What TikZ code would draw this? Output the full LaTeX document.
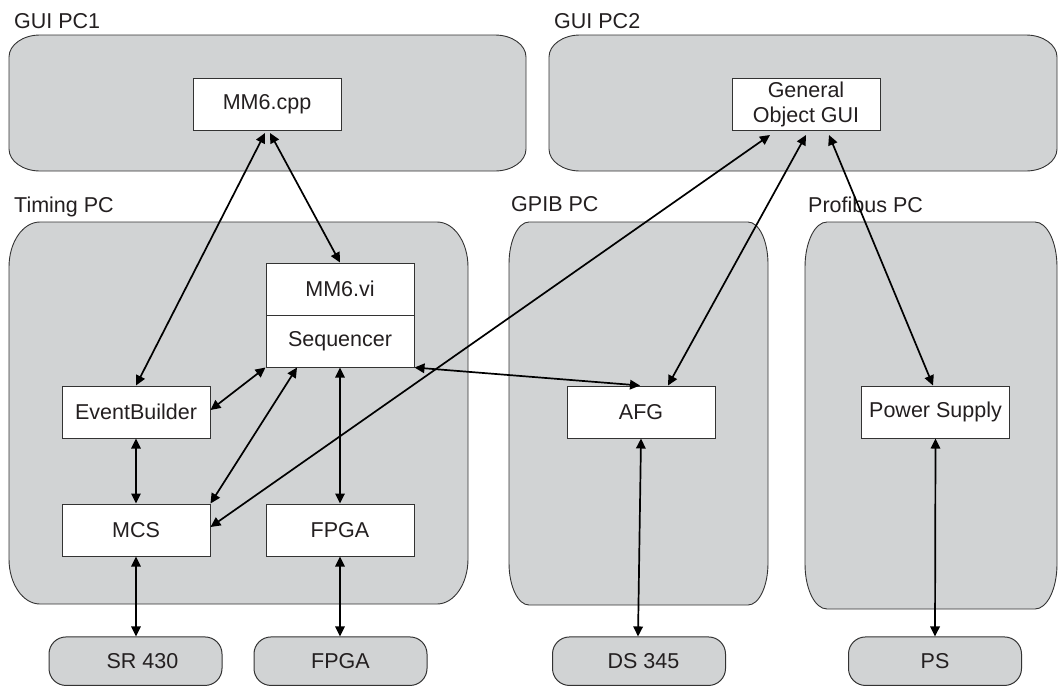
\documentclass[tikz,border=0pt]{standalone}
\usepackage{fontspec}
\setmainfont{Liberation Sans}
\usetikzlibrary{arrows.meta}
\definecolor{regfill}{HTML}{D1D3D4}
\definecolor{edge}{HTML}{333333}
\definecolor{txt}{HTML}{231F20}
\newcommand\regionshape[6]{%
  \filldraw[region] (#1,#2+#6) .. controls (#1,#2+0.448*#6) and (#1+0.448*#5,#2) .. (#1+#5,#2)
   -- (#3-#5,#2) .. controls (#3-0.448*#5,#2) and (#3,#2+0.448*#6) .. (#3,#2+#6)
   -- (#3,#4-#6) .. controls (#3,#4-0.448*#6) and (#3-0.448*#5,#4) .. (#3-#5,#4)
   -- (#1+#5,#4) .. controls (#1+0.448*#5,#4) and (#1,#4-0.448*#6) .. (#1,#4-#6) -- cycle;}
\tikzset{
  region/.style={fill=regfill, draw=edge, line width=0.9pt},
  wbox/.style={draw=edge, fill=white, line width=1pt, minimum width=148pt, minimum height=52pt, inner sep=0pt, text=txt},
  dev/.style={draw=edge, fill=regfill, line width=1pt, rounded corners=17pt, minimum width=173pt, minimum height=48.5pt, inner sep=0pt, text=txt},
  conn/.style={line width=1.7pt, draw=black, {Triangle[length=10pt,width=9.5pt]}-{Triangle[length=10pt,width=9.5pt]}},
  lbl/.style={anchor=base west, inner sep=0pt, text=txt}
}
\begin{document}
\begin{tikzpicture}[x=1pt, y=-1pt, font=\fontsize{21.5pt}{25pt}\selectfont]
\useasboundingbox (0,0) rectangle (1059,686);
\fill[white] (0,0) rectangle (1059,686);
\clip (0,0) rectangle (1059,686);
% regions
\regionshape{9}{35}{526}{171}{31}{22}
\regionshape{549}{35}{1057}{171}{31}{22}
\regionshape{9}{222}{468}{604}{31}{45}
\regionshape{509}{222}{768}{605}{20}{42}
\regionshape{805}{222}{1057}{609}{22}{45}
% region labels
\node[lbl] (l1) at (14,28.5) {GUI PC1};
\node[lbl] (l2) at (554,28) {GUI PC2};
\node[lbl] (l3) at (14,212.5) {Timing PC};
\node[lbl] (l4) at (511,211.5) {GPIB PC};
\node[lbl] (l5) at (808,212.5) {Profibus PC};
% devices
\node[dev] (sr) at (135.5,661.2) {\hspace*{14pt}SR 430};
\node[dev] (fpgab) at (340.5,661.2) {FPGA};
\node[dev] (ds) at (639,661.2) {\hspace*{9pt}DS 345};
\node[dev] (psb) at (935,661.2) {PS};
% white boxes
\node[wbox] (cpp) at (267,104.5) {MM6.cpp};
\node[wbox, align=center] (gog) at (806,104.5) {General\\Object GUI};
\node[wbox] (vi) at (340,289) {MM6.vi};
\node[wbox] (seq) at (340,341) {Sequencer};
\node[wbox] (eb) at (136,412) {EventBuilder};
\node[wbox] (mcs) at (136,530) {MCS};
\node[wbox] (fpga) at (340,530) {FPGA};
\node[wbox] (afg) at (641,412) {AFG};
\node[wbox] (ps) at (935.5,412) {Power Supply};
% connectors
\draw[conn] ([xshift=-2pt,yshift=-2pt]cpp.south) -- (eb.north);
\draw[conn] ([xshift=3pt,yshift=-2pt]cpp.south) -- (vi.north);
\draw[conn] ([xshift=-36pt,yshift=-4pt]gog.south) -- ([yshift=3pt]mcs.east);
\draw[conn] ([yshift=-4pt]gog.south) -- ([xshift=27pt]afg.north);
\draw[conn] ([xshift=23pt,yshift=-4pt]gog.south) -- ([xshift=-2.5pt]ps.north);
\draw[conn] (seq.south east) -- ([xshift=-1pt]afg.north);
\draw[conn] ([yshift=2pt]eb.east) -- (seq.south west);
\draw[conn] (mcs.north east) -- ([xshift=-43pt]seq.south);
\draw[conn] (seq.south) -- (fpga.north);
\draw[conn] (eb.south) -- (mcs.north);
\draw[conn] (mcs.south) -- (sr.north -| mcs.south);
\draw[conn] (fpga.south) -- (fpgab.north -| fpga.south);
\draw[conn] (afg.south) -- ([xshift=-1pt]ds.north);
\draw[conn] (ps.south) -- (psb.north);
\end{tikzpicture}
\end{document}
